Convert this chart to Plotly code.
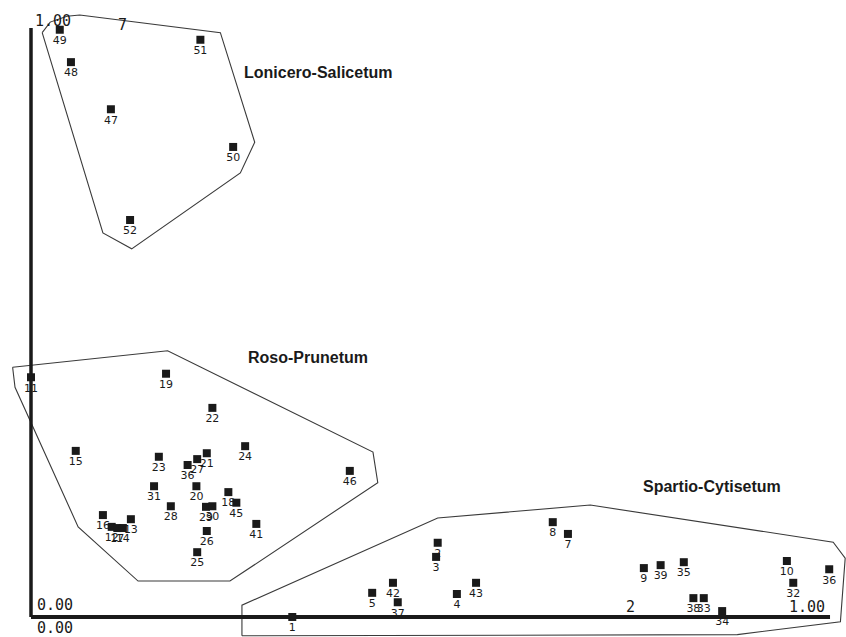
import plotly.graph_objects as go

# ---- Releves (ordination scores, axis 1 = x, axis 2 = y) ----
lon_labels = ["49", "48", "47", "51", "50", "52"]
lon_x = [0.036, 0.050, 0.100, 0.212, 0.253, 0.124]
lon_y = [0.997, 0.942, 0.862, 0.980, 0.798, 0.674]

roso_labels = ["11", "19", "22", "15", "23", "21", "27", "36", "24", "46", "31", "20",
               "28", "29", "30", "18", "45", "41", "26", "25", "16", "12", "17", "14", "13"]
roso_x = [0.000, 0.169, 0.227, 0.056, 0.160, 0.220, 0.208, 0.196, 0.268, 0.399, 0.154, 0.207,
          0.175, 0.219, 0.227, 0.247, 0.257, 0.282, 0.220, 0.208, 0.090, 0.101, 0.108, 0.115, 0.125]
roso_y = [0.407, 0.413, 0.355, 0.282, 0.272, 0.278, 0.268, 0.258, 0.290, 0.248, 0.222, 0.222,
          0.188, 0.187, 0.188, 0.212, 0.194, 0.158, 0.146, 0.110, 0.173, 0.153, 0.151, 0.151, 0.166]

spa_labels = ["1", "5", "42", "37", "2", "3", "4", "43", "8", "7", "9", "39", "35",
              "38", "33", "34", "10", "32", "36"]
spa_x = [0.327, 0.427, 0.453, 0.459, 0.509, 0.507, 0.533, 0.557, 0.653, 0.672, 0.767, 0.788, 0.817,
         0.829, 0.842, 0.865, 0.946, 0.954, 0.999]
spa_y = [0.000, 0.041, 0.058, 0.025, 0.126, 0.102, 0.039, 0.058, 0.161, 0.141, 0.083, 0.088, 0.093,
         0.032, 0.032, 0.010, 0.095, 0.058, 0.081]

# ---- Convex hulls of the three associations ----
lon_hull_x = [0.014, 0.024, 0.045, 0.061, 0.237, 0.280, 0.262, 0.126, 0.090, 0.014]
lon_hull_y = [0.992, 1.010, 1.020, 1.022, 0.992, 0.806, 0.754, 0.625, 0.652, 0.992]

roso_hull_x = [-0.023, 0.171, 0.428, 0.434, 0.249, 0.134, 0.059, -0.020, -0.023]
roso_hull_y = [0.424, 0.452, 0.280, 0.228, 0.061, 0.061, 0.153, 0.390, 0.424]

spa_hull_x = [0.264, 0.264, 0.509, 0.700, 1.004, 1.019, 1.013, 0.884, 0.264]
spa_hull_y = [-0.032, 0.020, 0.168, 0.190, 0.127, 0.100, -0.008, -0.030, -0.032]

group_names = ["Lonicero-Salicetum", "Roso-Prunetum", "Spartio-Cytisetum"]
group_name_x = [0.359, 0.347, 0.852]
group_name_y = [0.924, 0.441, 0.221]

INK = "#1a1a1a"
fig = go.Figure()

for hx, hy in [(lon_hull_x, lon_hull_y), (roso_hull_x, roso_hull_y), (spa_hull_x, spa_hull_y)]:
    fig.add_trace(go.Scatter(x=hx, y=hy, mode="lines",
                             line=dict(color="#3a3a3a", width=1.1),
                             hoverinfo="skip", showlegend=False))

# axes lines
fig.add_shape(type="line", x0=0, y0=0, x1=0, y1=1.0, line=dict(color=INK, width=3.5))
fig.add_shape(type="line", x0=0, y0=0, x1=1.0, y1=0, line=dict(color=INK, width=4))

for lx, ly, lt in [(lon_x, lon_y, lon_labels), (roso_x, roso_y, roso_labels), (spa_x, spa_y, spa_labels)]:
    fig.add_trace(go.Scatter(x=lx, y=ly, mode="markers+text", text=lt,
                             textposition="bottom center",
                             textfont=dict(family="DejaVu Sans", size=11, color=INK),
                             marker=dict(symbol="square", size=8, color=INK),
                             cliponaxis=False, showlegend=False))

for name, gx, gy in zip(group_names, group_name_x, group_name_y):
    fig.add_annotation(x=gx, y=gy, text="<b>" + name + "</b>", showarrow=False,
                       font=dict(family="Liberation Sans", size=16, color=INK))

mono = dict(family="DejaVu Sans Mono", size=15, color=INK)
tick_texts = ["0.00", "0.00", "1.00", "1.00", "2", "7"]
tick_x = [0.030, 0.030, 0.971, 0.027, 0.750, 0.114]
tick_y = [0.020, -0.019, 0.017, 1.012, 0.017, 1.005]
for t, tx, ty in zip(tick_texts, tick_x, tick_y):
    fig.add_annotation(x=tx, y=ty, text=t, showarrow=False, font=mono)

fig.update_xaxes(range=[-0.0388, 1.0200], visible=False)
fig.update_yaxes(range=[-0.0340, 1.0475], visible=False)
fig.update_layout(width=846, height=637, margin=dict(l=0, r=0, t=0, b=0),
                  plot_bgcolor="white", paper_bgcolor="white")

fig.write_html("out.html", config={"displayModeBar": False},
               post_script="document.body.style.margin='0';document.body.style.overflow='hidden';")
